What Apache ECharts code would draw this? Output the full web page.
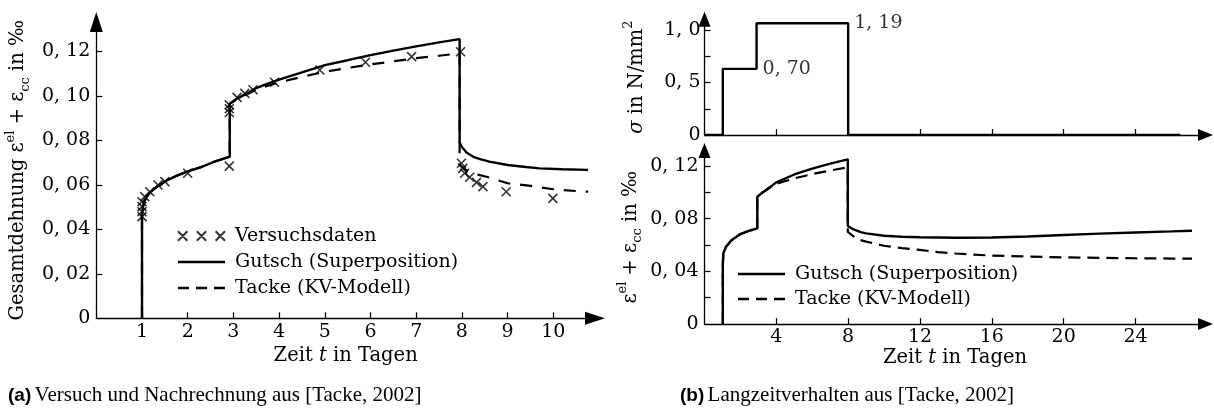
<!DOCTYPE html>
<html><head><meta charset="utf-8">
<script src="https://cdn.jsdelivr.net/npm/echarts@6/dist/echarts.min.js"></script>
<style>html,body{margin:0;padding:0;background:#fff}#c{width:1214px;height:416px}</style>
</head><body><div id="c"></div>
<script>
// ---------- data: panel (a) ----------
const versuchT = [1.0,1.0,1.0,1.0,1.06,1.17,1.35,1.5,2.0,2.91,2.91,2.91,2.91,3.08,3.25,3.43,3.9,4.89,5.89,6.9,7.97,7.99,8.02,8.06,8.17,8.32,8.46,8.97,9.99];
const versuchV = [0.0457,0.0479,0.0502,0.0524,0.0547,0.0569,0.0599,0.0614,0.0652,0.0684,0.0925,0.0942,0.0959,0.0993,0.1011,0.1027,0.1061,0.1116,0.1151,0.1176,0.1198,0.0697,0.0674,0.0652,0.0634,0.0611,0.0592,0.0569,0.0539];
const gutschAT = [1.0,1.0,1.02,1.05,1.1,1.2,1.35,1.5,1.75,2.0,2.3,2.6,2.92,2.92,3.0,3.1,3.25,3.5,3.75,4.0,4.5,5.0,5.5,6.0,6.5,7.0,7.5,7.95,7.95,8.0,8.1,8.25,8.4,8.6,9.0,9.4,9.7,10.2,10.76];
const gutschAV = [0,0.046,0.050,0.0525,0.0545,0.057,0.0595,0.0615,0.064,0.066,0.068,0.0705,0.0726,0.0965,0.0975,0.099,0.1005,0.1035,0.1055,0.1073,0.1105,0.1138,0.116,0.1183,0.1203,0.1222,0.124,0.1255,0.079,0.077,0.0745,0.0726,0.0715,0.0704,0.0689,0.068,0.0674,0.067,0.0667];
const tackeAT = [1.0,1.0,1.02,1.05,1.1,1.2,1.35,1.5,1.75,2.0,2.3,2.6,2.92,2.92,3.0,3.1,3.25,3.5,3.75,4.0,4.5,5.0,5.5,6.0,6.5,7.0,7.5,7.95,7.95,8.1,8.3,8.54,9.0,9.5,10.0,10.5,10.76];
const tackeAV = [0,0.046,0.050,0.0525,0.0545,0.057,0.0595,0.0615,0.064,0.066,0.068,0.0705,0.0726,0.0965,0.0975,0.0988,0.1002,0.1028,0.1045,0.106,0.1085,0.1108,0.1125,0.1141,0.1155,0.1169,0.118,0.1191,0.069,0.0665,0.0648,0.0636,0.0607,0.0595,0.058,0.0572,0.0569];
const aXTicks = [1,2,3,4,5,6,7,8,9,10];
const aXLabels = ['1','2','3','4','5','6','7','8','9','10'];
const aYTicks = [0,0.02,0.04,0.06,0.08,0.1,0.12];
const aYLabels = ['0','0, 02','0, 04','0, 06','0, 08','0, 10','0, 12'];

// ---------- data: panel (b) ----------
const sigmaT = [0,1.02,1.02,2.9,2.9,8.0,8.0,26.5];
const sigmaV = [0,0,0.63,0.63,1.064,1.064,0,0];
const sigmaNoteT = [2.9,8.0];
const sigmaNoteV = [0.63,1.064];
const sigmaNoteText = ['0, 70','1, 19'];
const gutschBT = [1.02,1.02,1.05,1.2,1.5,2.0,2.5,2.94,2.94,3.2,3.5,4.0,5.0,6.0,7.0,7.98,7.98,8.3,8.7,9.0,10,11,12,14,16,18,20,22,24,26,27.15];
const gutschBV = [0,0.045,0.0537,0.0587,0.0635,0.0683,0.0708,0.0726,0.0966,0.0995,0.1025,0.1075,0.1135,0.118,0.1218,0.125,0.0744,0.0718,0.0697,0.0688,0.067,0.0662,0.0658,0.0655,0.0657,0.0664,0.0676,0.0686,0.0695,0.0703,0.0708];
const tackeBT = [1.02,1.02,1.05,1.2,1.5,2.0,2.5,2.94,2.94,3.2,3.5,4.0,5,6,7,7.98,7.98,8.3,8.6,9,10,11,12,13,14,16,18,20,22,24,26,27.15];
const tackeBV = [0,0.045,0.0537,0.0587,0.0635,0.0683,0.0708,0.0726,0.0966,0.0995,0.1022,0.1065,0.1105,0.1138,0.1165,0.119,0.070,0.0665,0.064,0.0625,0.0594,0.0576,0.0562,0.0545,0.0535,0.0519,0.0512,0.0506,0.0502,0.0499,0.0497,0.0496];
const bXTicks = [4,8,12,16,20,24];
const bXLabels = ['4','8','12','16','20','24'];
const sYTicks = [0.25,0.5,0.75,1.0];
const sYLabelVals = [0,0.5,1.0];
const sYLabels = ['0','0, 5','1, 0'];
const eYTicks = [0.02,0.04,0.06,0.08,0.1,0.12];
const eYLabelVals = [0,0.04,0.08,0.12];
const eYLabels = ['0','0, 04','0, 08','0, 12'];

const SERIF = '"DejaVu Serif", serif';
const CAPSERIF = '"Liberation Serif", serif';
const FS = 19;
const NFS = 19.5;
const zip = (a,b) => a.map((x,i)=>[x,b[i]]);
const lab = (vals, labels) => v => { const i = vals.findIndex(x => Math.abs(x - v) < 1e-9); return i >= 0 ? labels[i] : ''; };

const richName = {
  t: {fontFamily: SERIF, fontSize: NFS, color:'#000', lineHeight: 28},
  i: {fontFamily: SERIF, fontSize: NFS, fontStyle:'italic', color:'#000', lineHeight: 28},
  sup: {fontFamily: SERIF, fontSize: 13, color:'#000', verticalAlign:'top', lineHeight: 15},
  sub: {fontFamily: SERIF, fontSize: 13, color:'#000', verticalAlign:'bottom', lineHeight: 15}
};
const axisLineArrow = (size) => ({show:true, onZero:false, symbol:['none','triangle'], symbolSize:size, lineStyle:{color:'#000', width:1.3}});
const tick = (vals) => ({show:true, inside:true, length:6, customValues: vals, lineStyle:{color:'#000', width:1.2}});
const label = (vals, labels, margin, show=true) => ({show, customValues: vals, formatter: lab(vals, labels), fontFamily: SERIF, fontSize: FS, color:'#000', margin});

const crossPath = 'path://M0,0L10,10M10,0L0,10';
const legendCross = 'path://M1,0L10,9M10,0L1,9M19,0L28,9M28,0L19,9M37,0L46,9M46,0L37,9';
const legendSolid = 'path://M0,0H47V2.5H0Z';
const legendDash = 'path://M0,0H11V2.3H0ZM18,0H29V2.3H18ZM36,0H47V2.3H36Z';
const legendText = {fontFamily:SERIF, fontSize:FS, color:'#000', lineHeight:20, padding:[0,0,0,5]};

const option = {
  animation: false,
  backgroundColor: '#fff',
  grid: [
    {left: 96.3, right: 619, top: 22, bottom: 97.7, outerBoundsMode:'none'},
    {left: 704.5, right: 8.5, top: 19.2, bottom: 281, outerBoundsMode:'none'},
    {left: 704.5, right: 8.5, top: 150.5, bottom: 92, outerBoundsMode:'none'}
  ],
  xAxis: [
    {gridIndex:0, type:'value', min:0, max:10.912, splitLine:{show:false},
     axisLine: axisLineArrow([13,20]), axisTick: tick(aXTicks), axisLabel: label(aXTicks, aXLabels, 4),
     name:'{t|Zeit }{i|t}{t| in Tagen}', nameLocation:'middle', nameGap:17, nameTextStyle:{rich: richName}},
    {gridIndex:1, type:'value', min:0, max:27.9, splitLine:{show:false},
     axisLine: axisLineArrow([12,15]), axisTick: tick(bXTicks), axisLabel: label(bXTicks, bXLabels, 4, false)},
    {gridIndex:2, type:'value', min:0, max:27.9, splitLine:{show:false},
     axisLine: axisLineArrow([12,15]), axisTick: tick(bXTicks), axisLabel: label(bXTicks, bXLabels, 4),
     name:'{t|Zeit }{i|t}{t| in Tagen}', nameLocation:'middle', nameGap:19, nameTextStyle:{rich: richName}}
  ],
  yAxis: [
    {gridIndex:0, type:'value', min:0, max:0.13317, splitLine:{show:false},
     axisLine: axisLineArrow([13,20]), axisTick: tick(aYTicks.slice(1)), axisLabel: label(aYTicks, aYLabels, 6),
     name:'{t|Gesamtdehnung ε}{sup|el}{t| + ε}{sub|cc}{t| in ‰}', nameLocation:'middle', nameRotate:90, nameGap:64, nameTextStyle:{rich: richName}},
    {gridIndex:1, type:'value', min:0, max:1.103, splitLine:{show:false},
     axisLine: axisLineArrow([12,15]), axisTick: tick(sYTicks), axisLabel: label(sYLabelVals, sYLabels, 4),
     name:'{i|σ}{t| in N/mm}{sup|2}', nameLocation:'middle', nameRotate:90, nameGap:54, nameTextStyle:{rich: richName}},
    {gridIndex:2, type:'value', min:0, max:0.1317, splitLine:{show:false},
     axisLine: axisLineArrow([12,15]), axisTick: tick(eYTicks), axisLabel: label(eYLabelVals, eYLabels, 6),
     name:'{t|ε}{sup|el}{t| + ε}{sub|cc}{t| in ‰}', nameLocation:'middle', nameRotate:90, nameGap:60, nameTextStyle:{rich: richName}}
  ],
  legend: [
    {left:177, top:226, padding:0, orient:'vertical', itemGap:6, itemWidth:47, itemHeight:10, symbolKeepAspect:true,
     data:[{name:'Versuchsdaten', icon: legendCross},
           {name:'Gutsch (Superposition)', icon: legendSolid},
           {name:'Tacke (KV-Modell)', icon: legendDash}],
     textStyle: legendText, selectedMode:false},
    {left:738, top:264, padding:0, orient:'vertical', itemGap:5, itemWidth:47, itemHeight:10, symbolKeepAspect:true,
     data:[{name:'Gutsch (Superposition)', icon: legendSolid},
           {name:'Tacke (KV-Modell)', icon: legendDash}],
     textStyle: legendText, selectedMode:false}
  ],
  series: [
    {name:'Versuchsdaten', type:'scatter', xAxisIndex:0, yAxisIndex:0, data: zip(versuchT, versuchV),
     symbol: crossPath, symbolSize: 9,
     itemStyle:{color:'rgba(0,0,0,0)', borderColor:'#000', borderWidth:1.6}},
    {name:'Gutsch (Superposition)', type:'line', xAxisIndex:0, yAxisIndex:0, data: zip(gutschAT, gutschAV),
     symbol:'none', lineStyle:{color:'#000', width:2.4}, itemStyle:{color:'#000', borderWidth:0}},
    {name:'Tacke (KV-Modell)', type:'line', xAxisIndex:0, yAxisIndex:0, data: zip(tackeAT, tackeAV),
     symbol:'none', lineStyle:{color:'#000', width:2.2, type:[12,10]}, itemStyle:{color:'#000', borderWidth:0}},
    {name:'sigma', type:'line', xAxisIndex:1, yAxisIndex:1, data: zip(sigmaT, sigmaV),
     symbol:'none', lineStyle:{color:'#000', width:2.4}},
    {name:'sigmaNotes', type:'scatter', xAxisIndex:1, yAxisIndex:1, data: zip(sigmaNoteT, sigmaNoteV),
     symbolSize:0, itemStyle:{color:'rgba(0,0,0,0)'},
     label:{show:true, position:'right', distance:6, fontFamily:SERIF, fontSize:FS, color:'#000',
            formatter: p => sigmaNoteText[p.dataIndex]}},
    {name:'Tacke (KV-Modell)', type:'line', xAxisIndex:2, yAxisIndex:2, data: zip(tackeBT, tackeBV),
     symbol:'none', lineStyle:{color:'#000', width:2.2, type:[12,7]}, itemStyle:{color:'#000', borderWidth:0}},
    {name:'Gutsch (Superposition)', type:'line', xAxisIndex:2, yAxisIndex:2, data: zip(gutschBT, gutschBV),
     symbol:'none', lineStyle:{color:'#000', width:2.4}, itemStyle:{color:'#000', borderWidth:0}}
  ],
  graphic: [
    {type:'text', left:8, top:385, style:{
      text:'{b|(a)} {s|Versuch und Nachrechnung aus [Tacke, 2002]}',
      rich:{b:{fontFamily:'"Liberation Sans", sans-serif', fontWeight:'bold', fontSize:19, fill:'#000'},
            s:{fontFamily:CAPSERIF, fontSize:21, fill:'#000'}}}},
    {type:'text', left:680, top:385, style:{
      text:'{b|(b)} {s|Langzeitverhalten aus [Tacke, 2002]}',
      rich:{b:{fontFamily:'"Liberation Sans", sans-serif', fontWeight:'bold', fontSize:19, fill:'#000'},
            s:{fontFamily:CAPSERIF, fontSize:21, fill:'#000'}}}}
  ]
};
const chart = echarts.init(document.getElementById('c'), null, {renderer:'canvas'});
chart.setOption(option);
</script></body></html>
